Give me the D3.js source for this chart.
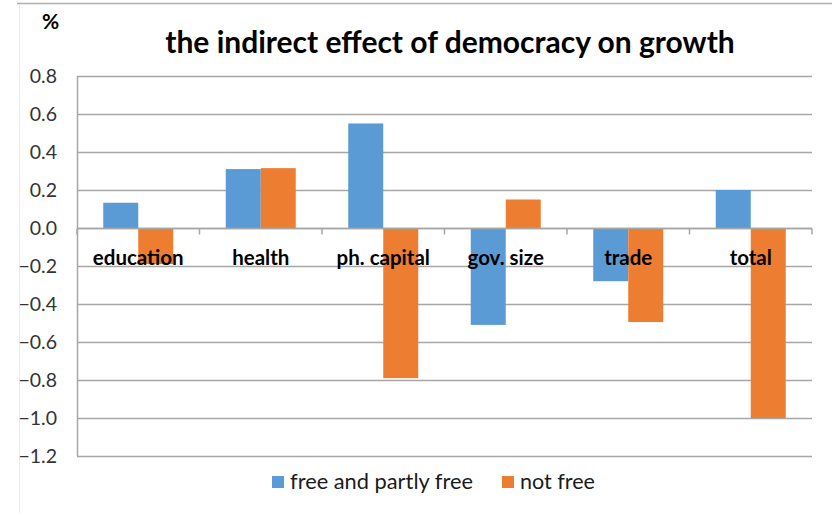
<!DOCTYPE html>
<html>
<head>
<meta charset="utf-8">
<script src="https://cdn.jsdelivr.net/npm/d3@7"></script>
<style>
  body { margin: 0; background: #fff; }
  svg { display: block; font-family: Lato, "Open Sans", sans-serif; }
</style>
</head>
<body>
<svg id="chart" width="832" height="515"></svg>
<script>
const categories = ['education', 'health', 'ph. capital', 'gov. size', 'trade', 'total'];
const seriesNames = ['free and partly free', 'not free'];
const freeValues = [0.133, 0.31, 0.55, -0.51, -0.28, 0.2];
const notFreeValues = [-0.19, 0.315, -0.79, 0.15, -0.495, -1.0];
const yTicks = [0.8, 0.6, 0.4, 0.2, 0.0, -0.2, -0.4, -0.6, -0.8, -1.0, -1.2];
const colors = ['#5b9bd5', '#ed7d31'];

const svg = d3.select('#chart');
const margin = { top: 76, right: 20, bottom: 59, left: 77 };
const width = 832 - margin.left - margin.right;
const height = 515 - margin.top - margin.bottom;

// outer frame, like the pasted Excel chart
svg.append('line').attr('x1', 17).attr('x2', 832).attr('y1', 3.5).attr('y2', 3.5)
  .attr('stroke', '#b0b0b0').attr('stroke-width', 1.5);
svg.append('line').attr('x1', 19.5).attr('x2', 19.5).attr('y1', 4).attr('y2', 513)
  .attr('stroke', '#ececec');

const x0 = d3.scaleBand().domain(categories).range([0, width]).paddingInner(0).paddingOuter(0);
// Excel gap width 150%: bars are band / 3.5 wide
const x1 = d3.scaleBand().domain(seriesNames)
  .range([x0.bandwidth() * 0.75 / 3.5, x0.bandwidth() - x0.bandwidth() * 0.75 / 3.5]);
const y = d3.scaleLinear().domain([-1.2, 0.8]).range([height, 0]);

const g = svg.append('g').attr('transform', `translate(${margin.left},${margin.top})`);

// gridlines
g.append('g')
  .selectAll('line')
  .data(yTicks)
  .join('line')
  .attr('x1', 0).attr('x2', width)
  .attr('y1', d => Math.round(y(d)) + 0.5).attr('y2', d => Math.round(y(d)) + 0.5)
  .attr('stroke', '#a6a6a6').attr('stroke-width', 1.5);

// left axis line
g.append('line').attr('x1', 0.5).attr('x2', 0.5).attr('y1', 0).attr('y2', height)
  .attr('stroke', '#a6a6a6').attr('stroke-width', 1.5);

// y tick labels
g.append('g')
  .selectAll('text')
  .data(yTicks)
  .join('text')
  .attr('x', -20)
  .attr('y', d => y(d))
  .attr('dy', '0.36em')
  .attr('text-anchor', 'end')
  .attr('font-size', 19.5)
  .attr('fill', '#333')
  .text(d => d3.format('.1f')(d));

// bars
const rows = categories.map((c, i) => ({ c, vals: [freeValues[i], notFreeValues[i]] }));
g.append('g')
  .selectAll('g')
  .data(rows)
  .join('g')
  .attr('transform', d => `translate(${x0(d.c)},0)`)
  .selectAll('rect')
  .data(d => d.vals.map((v, k) => ({ v, k })))
  .join('rect')
  .attr('x', d => x1(seriesNames[d.k]))
  .attr('width', x1.bandwidth())
  .attr('y', d => y(Math.max(0, d.v)))
  .attr('height', d => Math.abs(y(d.v) - y(0)))
  .attr('fill', d => colors[d.k]);

// zero axis with category ticks
const zero = Math.round(y(0)) + 0.5;
g.append('line').attr('x1', 0).attr('x2', width).attr('y1', zero).attr('y2', zero)
  .attr('stroke', '#a6a6a6').attr('stroke-width', 1.5);
g.append('g')
  .selectAll('line')
  .data(d3.range(categories.length + 1))
  .join('line')
  .attr('x1', i => i * x0.bandwidth()).attr('x2', i => i * x0.bandwidth())
  .attr('y1', zero).attr('y2', zero + 6)
  .attr('stroke', '#a6a6a6').attr('stroke-width', 1.5);

// category labels
g.append('g')
  .selectAll('text')
  .data(categories)
  .join('text')
  .attr('x', d => x0(d) + x0.bandwidth() / 2)
  .attr('y', zero + 36)
  .attr('text-anchor', 'middle')
  .attr('font-size', 20.5)
  .attr('font-weight', 'bold')
  .attr('fill', '#000')
  .text(d => d);

// title and unit
svg.append('text')
  .attr('x', 450).attr('y', 53)
  .attr('text-anchor', 'middle')
  .attr('font-size', 30)
  .attr('font-weight', 'bold')
  .attr('fill', '#000')
  .text('the indirect effect of democracy on growth');
svg.append('text')
  .attr('x', 42).attr('y', 29)
  .attr('font-size', 21)
  .attr('font-weight', 'bold')
  .attr('fill', '#000')
  .text('%');

// legend
const legend = svg.append('g').attr('transform', 'translate(272,476)');
const items = [{ name: seriesNames[0], x: 0, len: 183 }, { name: seriesNames[1], x: 230, len: 75 }];
items.forEach((it, k) => {
  legend.append('rect').attr('x', it.x).attr('y', 0).attr('width', 12).attr('height', 12)
    .attr('fill', colors[k]);
  legend.append('text').attr('x', it.x + 18).attr('y', 12.5)
    .attr('font-size', 21).attr('fill', '#1a1a1a')
    .attr('textLength', it.len).attr('lengthAdjust', 'spacingAndGlyphs')
    .text(it.name);
});
</script>
</body>
</html>
